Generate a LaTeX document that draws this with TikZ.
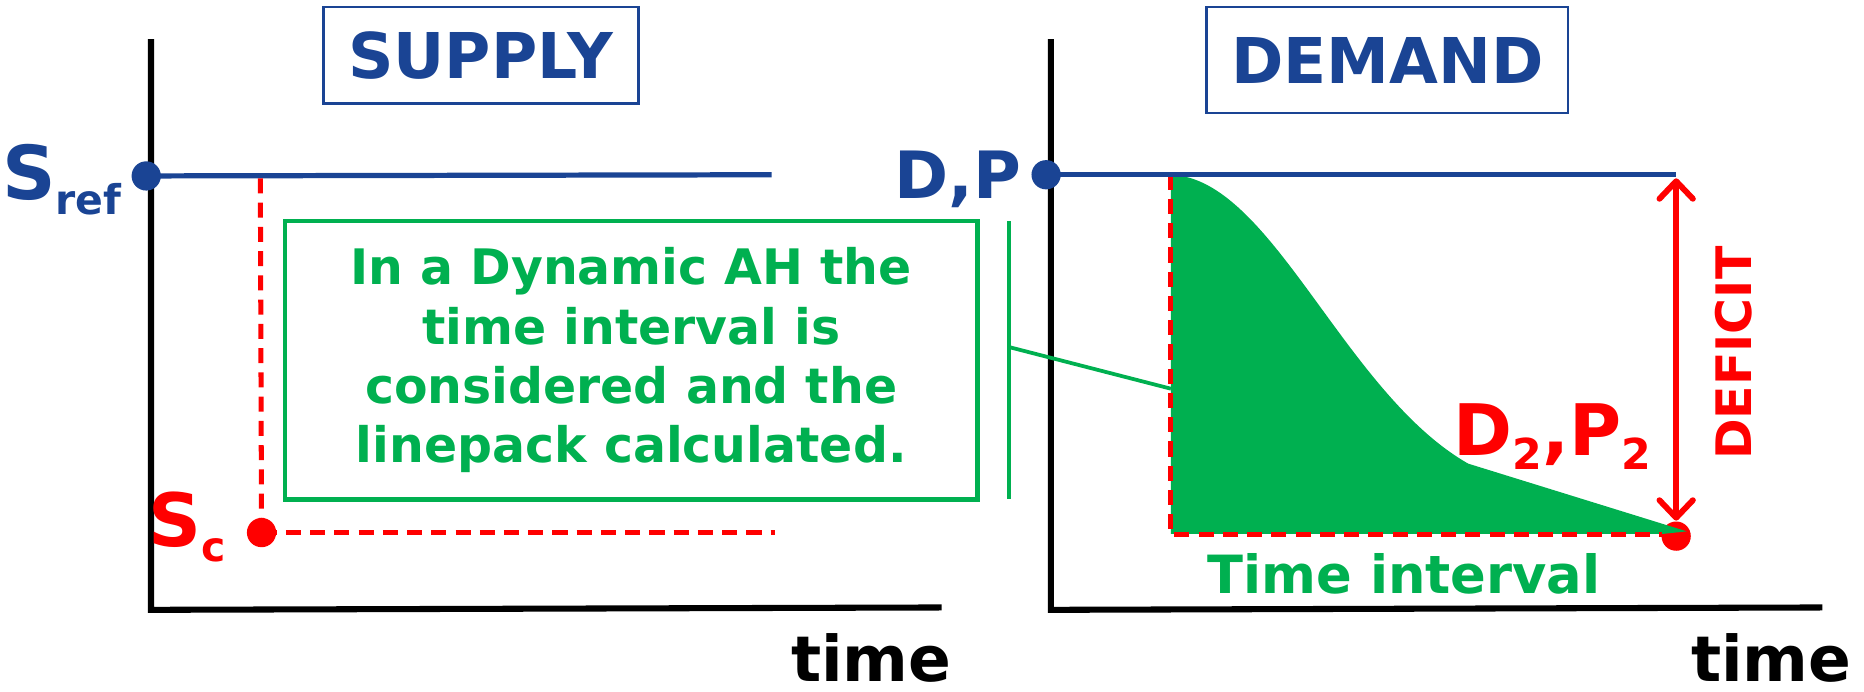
\documentclass[tikz,border=0pt]{standalone}
\usepackage{fontspec}
\setmainfont{DejaVu Sans}
\usetikzlibrary{arrows.meta}
\definecolor{ablue}{HTML}{1A4494}
\definecolor{agreen}{HTML}{00B050}
\definecolor{ared}{HTML}{FF0000}
\newcommand\myfs[1]{\fontsize{#1}{#1}\selectfont}
\tikzset{
  axisline/.style={line width=1.45pt, black},
  blueline/.style={ablue, line width=1.25pt},
  reddash/.style={ared, line width=1.2pt, dash pattern=on 3.6pt off 2.2pt},
  dotnode/.style={circle, inner sep=0pt, minimum size=7pt, fill=#1},
  titlebox/.style={draw=ablue, line width=0.6pt, text=ablue, font=\bfseries\myfs{15.1}},
  timelabel/.style={font=\bfseries\myfs{15.1}, text=black, inner sep=0pt},
  barb/.tip={Straight Barb[length=4.2pt, width=8pt, round]},
}
\begin{document}
\begin{tikzpicture}[x=0.01cm,y=-0.01cm]
\useasboundingbox (0,0) rectangle (1568,582);

% ---------- left panel ----------
\coordinate (lTop) at (127,33);
\coordinate (lOrig) at (127,513);
\coordinate (lEnd) at (792,511);
\draw[axisline] (lTop) -- (lOrig) -- (lEnd);

\node[titlebox, minimum width=2.65cm, minimum height=0.81cm] (supply) at (404.5,46.5) {SUPPLY};

\node[dotnode=ablue] (sref) at (123,148) {};
\coordinate (srefEnd) at (649,147);
\draw[blueline] (sref.center) -- (srefEnd);
\node[anchor=base east, inner sep=0pt, text=ablue, font=\bfseries] (srefl) at (103,168)
  {\myfs{17.8}S\raisebox{-3.6pt}{\myfs{9.8}ref}};

\coordinate (scTop) at (219,150);
\node[dotnode=ared] (sc) at (220,448) {};
\coordinate (scEnd) at (652,448);
\draw[reddash] (scTop) -- (sc.center);
\draw[reddash] (sc.center) -- (scEnd);
\node[anchor=base east, inner sep=0pt, text=ared, font=\bfseries] (scl) at (191,460)
  {\myfs{17.6}S\raisebox{-3.6pt}{\myfs{9.8}c}};

\node[draw=agreen, line width=1.1pt, minimum width=5.82cm, minimum height=2.34cm,
      text=agreen, font=\bfseries\fontsize{11.7}{14.2}\selectfont, align=center] (box) at (531,303)
  {In a Dynamic AH the\\time interval is\\considered and the\\linepack calculated.};

\coordinate (gvTop) at (849,186);
\coordinate (gvBot) at (849,420);
\draw[agreen, line width=0.9pt] (gvTop) -- (gvBot);

\node[timelabel, anchor=base] (tl) at (733,573) {time};

% ---------- right panel ----------
\coordinate (rTop) at (884,33);
\coordinate (rOrig) at (884,513);
\coordinate (rEnd) at (1533,511);
\draw[axisline] (rTop) -- (rOrig) -- (rEnd);

\node[titlebox, minimum width=3.04cm, minimum height=0.89cm] (demand) at (1167,50.5) {DEMAND};

\node[dotnode=ared] (d2) at (1410,451) {};

% green area
\coordinate (gA) at (985,147);
\coordinate (gB) at (1235,390);
\coordinate (gC) at (1419,447);
\coordinate (gD) at (985,449);
\coordinate (gE) at (1400,449);
\fill[agreen] (gA) .. controls (1070,150) and (1130,330) .. (gB) -- (gC) -- (gE) -- (gD) -- cycle;

% connector from green line to area
\coordinate (cs) at (849,292);
\coordinate (ce) at (985,327);
\draw[agreen, line width=0.9pt] (cs) -- (ce);

\coordinate (gF) at (1398,450);
\coordinate (gG) at (985,450);
\draw[reddash] (gA) -- (gG) -- (gF);

\node[dotnode=ablue] (dp) at (880,147) {};
\coordinate (dpEnd) at (1410,147);
\draw[blueline] (dp.center) -- (dpEnd);
\node[anchor=base east, inner sep=0pt, text=ablue, font=\bfseries\myfs{15.6}] (dpl) at (860,167) {D,P};

\coordinate (arTop) at (1410,150);
\coordinate (arBot) at (1410,438);
\draw[ared, line width=1.4pt, line cap=round, barb-barb] (arTop) -- (arBot);

\node[rotate=90, text=ared, font=\bfseries\myfs{11.7}, inner sep=0pt] (def) at (1458,297) {DEFICIT};

\node[anchor=base west, inner sep=0pt, text=ared, font=\bfseries] (d2l) at (1222,383)
  {\myfs{17}D\raisebox{-3.4pt}{\myfs{10.2}2},P\raisebox{-3.4pt}{\myfs{10.2}2}};

\node[anchor=base, inner sep=0pt, text=agreen, font=\bfseries\myfs{12.6}] (ti) at (1181,499) {Time interval};

\node[timelabel, anchor=base] (tr) at (1490,573) {time};
\end{tikzpicture}
\end{document}
